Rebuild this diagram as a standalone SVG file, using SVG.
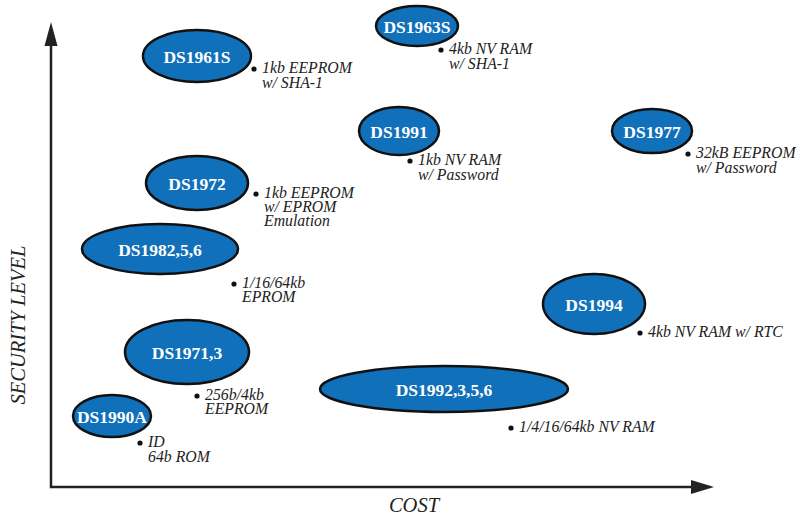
<svg xmlns="http://www.w3.org/2000/svg" width="804" height="517" viewBox="0 0 804 517">
<style>
.node ellipse{fill:#1170ba;stroke:#111;stroke-width:2.5}
.node text.t{font-family:"Liberation Serif",serif;font-weight:bold;font-size:17.5px;fill:#fff;text-anchor:middle}
.ann{font-family:"Liberation Serif",serif;font-style:italic;font-size:15.8px;fill:#222}
.dot{fill:#111}
.axis{stroke:#222;stroke-width:2.5;fill:none}
.axlab{font-family:"Liberation Serif",serif;font-style:italic;font-size:20.5px;fill:#222}
</style>
<rect width="804" height="517" fill="#fff"/>
<g id="axes">
<polyline class="axis" points="51,45 51,487 692,487"/>
<polygon points="51,22 44.5,46 57.5,46" fill="#222"/>
<polygon points="714,487 691,480 691,494" fill="#222"/>
<text class="axlab" x="414" y="512" text-anchor="middle">COST</text>
<text class="axlab" transform="translate(25,325) rotate(-90)" text-anchor="middle">SECURITY LEVEL</text>
</g>
<g id="DS1961S" class="node"><ellipse cx="197" cy="56" rx="54" ry="26"/><text class="t" x="197" y="63">DS1961S</text>
<circle class="dot" cx="254" cy="69" r="2.6"/><text class="ann" x="262" y="73">1kb EEPROM</text><text class="ann" x="262" y="88">w/ SHA-1</text></g>
<g id="DS1963S" class="node"><ellipse cx="417" cy="26" rx="41" ry="20"/><text class="t" x="417" y="33">DS1963S</text>
<circle class="dot" cx="441" cy="50" r="2.6"/><text class="ann" x="449" y="54">4kb NV RAM</text><text class="ann" x="449" y="69">w/ SHA-1</text></g>
<g id="DS1991" class="node"><ellipse cx="399" cy="131" rx="40" ry="24"/><text class="t" x="399" y="138">DS1991</text>
<circle class="dot" cx="410" cy="161" r="2.6"/><text class="ann" x="418" y="165">1kb NV RAM</text><text class="ann" x="418" y="180">w/ Password</text></g>
<g id="DS1977" class="node"><ellipse cx="652" cy="131" rx="40" ry="22"/><text class="t" x="652" y="138">DS1977</text>
<circle class="dot" cx="688" cy="154" r="2.6"/><text class="ann" x="696" y="158">32kB EEPROM</text><text class="ann" x="696" y="173">w/ Password</text></g>
<g id="DS1972" class="node"><ellipse cx="197" cy="183" rx="51" ry="27"/><text class="t" x="197" y="190">DS1972</text>
<circle class="dot" cx="256" cy="194" r="2.6"/><text class="ann" x="264" y="198">1kb EEPROM</text><text class="ann" x="264" y="212">w/ EPROM</text><text class="ann" x="264" y="226">Emulation</text></g>
<g id="DS1982" class="node"><ellipse cx="160" cy="249" rx="78" ry="25"/><text class="t" x="160" y="256">DS1982,5,6</text>
<circle class="dot" cx="234" cy="284" r="2.6"/><text class="ann" x="242" y="288">1/16/64kb</text><text class="ann" x="242" y="302">EPROM</text></g>
<g id="DS1994" class="node"><ellipse cx="594" cy="304" rx="51" ry="30"/><text class="t" x="594" y="311">DS1994</text>
<circle class="dot" cx="640" cy="333" r="2.6"/><text class="ann" x="648" y="337">4kb NV RAM w/ RTC</text></g>
<g id="DS1971" class="node"><ellipse cx="187" cy="352" rx="62" ry="32"/><text class="t" x="187" y="359">DS1971,3</text>
<circle class="dot" cx="197" cy="396" r="2.6"/><text class="ann" x="205" y="400">256b/4kb</text><text class="ann" x="205" y="414">EEPROM</text></g>
<g id="DS1992" class="node"><ellipse cx="444" cy="389" rx="124" ry="23"/><text class="t" x="444" y="396">DS1992,3,5,6</text>
<circle class="dot" cx="511" cy="428" r="2.6"/><text class="ann" x="519" y="432">1/4/16/64kb NV RAM</text></g>
<g id="DS1990A" class="node"><ellipse cx="112" cy="416" rx="39" ry="21"/><text class="t" x="112" y="423">DS1990A</text>
<circle class="dot" cx="140" cy="443" r="2.6"/><text class="ann" x="148" y="447">ID</text><text class="ann" x="148" y="462">64b ROM</text></g>
</svg>
